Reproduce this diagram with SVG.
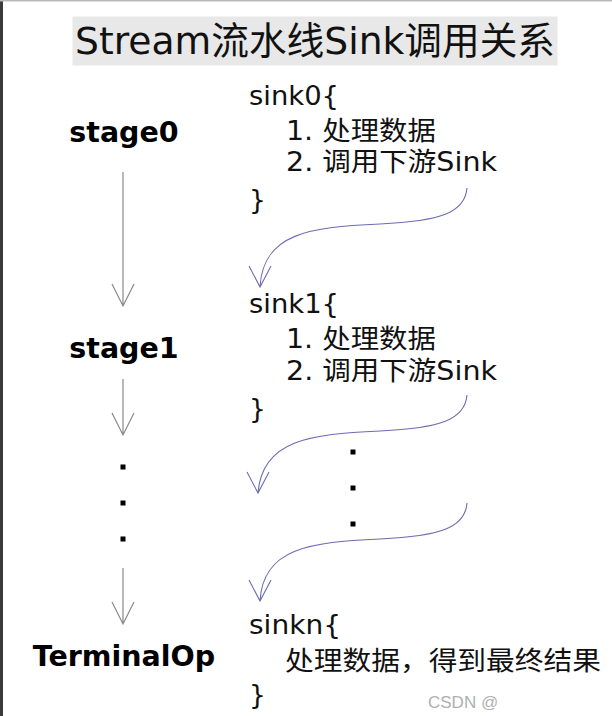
<svg xmlns="http://www.w3.org/2000/svg" width="612" height="716" viewBox="0 0 612 716">
<style>
.body{font-family:"DejaVu Sans","Noto Sans CJK SC",sans-serif;font-size:26.5px;fill:#111}
.stage{font-family:"DejaVu Sans","Noto Sans CJK SC",sans-serif;font-size:28.5px;font-weight:bold;fill:#000;text-anchor:middle}
.title{font-family:"DejaVu Sans","Noto Sans CJK SC",sans-serif;font-size:38px;fill:#111}
.flow{fill:none;stroke:#8a8a8a;stroke-width:1.2}
.call{fill:none;stroke:#6c6cb0;stroke-width:1.1}
.dot{fill:#000}
</style>
<rect x="0" y="0" width="612" height="716" fill="#fff"/>
<rect x="0" y="0" width="3" height="716" fill="#3a3a3a"/>
<rect x="0" y="0" width="612" height="1.5" fill="#b8b8b8"/>

<g id="title">
<rect x="72.5" y="16.5" width="485" height="49" fill="#e8e8e8"/>
<text class="title" x="75" y="54" textLength="480" lengthAdjust="spacingAndGlyphs">Stream流水线Sink调用关系</text>
</g>

<g id="stage0"><text class="stage" x="124" y="142">stage0</text></g>
<g id="stage1"><text class="stage" x="124" y="358">stage1</text></g>
<g id="dots-left">
<rect class="dot" x="120.5" y="464.5" width="5" height="5"/>
<rect class="dot" x="120.5" y="500.5" width="5" height="5"/>
<rect class="dot" x="120.5" y="536.5" width="5" height="5"/>
</g>
<g id="terminalOp"><text class="stage" x="124" y="666">TerminalOp</text></g>

<g id="sink0">
<text class="body" x="249" y="105" textLength="90" lengthAdjust="spacingAndGlyphs">sink0{</text>
<text class="body" x="286" y="140" textLength="150" lengthAdjust="spacingAndGlyphs">1. 处理数据</text>
<text class="body" x="286" y="171" textLength="211" lengthAdjust="spacingAndGlyphs">2. 调用下游Sink</text>
<text class="body" x="249" y="209">}</text>
</g>

<g id="sink1">
<text class="body" x="249" y="313" textLength="90" lengthAdjust="spacingAndGlyphs">sink1{</text>
<text class="body" x="286" y="348" textLength="150" lengthAdjust="spacingAndGlyphs">1. 处理数据</text>
<text class="body" x="286" y="380" textLength="211" lengthAdjust="spacingAndGlyphs">2. 调用下游Sink</text>
<text class="body" x="249" y="418">}</text>
</g>

<g id="dots-right">
<rect class="dot" x="350.5" y="449.5" width="5" height="5"/>
<rect class="dot" x="350.5" y="485.5" width="5" height="5"/>
<rect class="dot" x="350.5" y="521.5" width="5" height="5"/>
</g>

<g id="sinkn">
<text class="body" x="249" y="634" textLength="92" lengthAdjust="spacingAndGlyphs">sinkn{</text>
<text class="body" x="285" y="670" textLength="316" lengthAdjust="spacingAndGlyphs">处理数据，得到最终结果</text>
<text class="body" x="249" y="704">}</text>
</g>

<g id="connectors">
<path class="flow" d="M123,172 V306 M112,284 L123,306 L134,284"/>
<path class="flow" d="M123,379 V435 M112,413 L123,435 L134,413"/>
<path class="flow" d="M123,568 V624 M112,602 L123,624 L134,602"/>
<path class="call" d="M467,188 C465,213 440,221 380,224 C310,227 263,233 260,287 M249,266 L260,287 L271,266"/>
<path class="call" d="M467,395 C465,420 440,428 380,431 C310,434 262,440 258,493 M247,472 L258,493 L269,472"/>
<path class="call" d="M467,503 C465,528 440,536 380,539 C310,542 263,548 260,601 M249,580 L260,601 L271,580"/>
</g>

<text x="428" y="708" font-family="Liberation Sans, sans-serif" font-size="17" fill="#b0b0b0">CSDN @</text>
</svg>
